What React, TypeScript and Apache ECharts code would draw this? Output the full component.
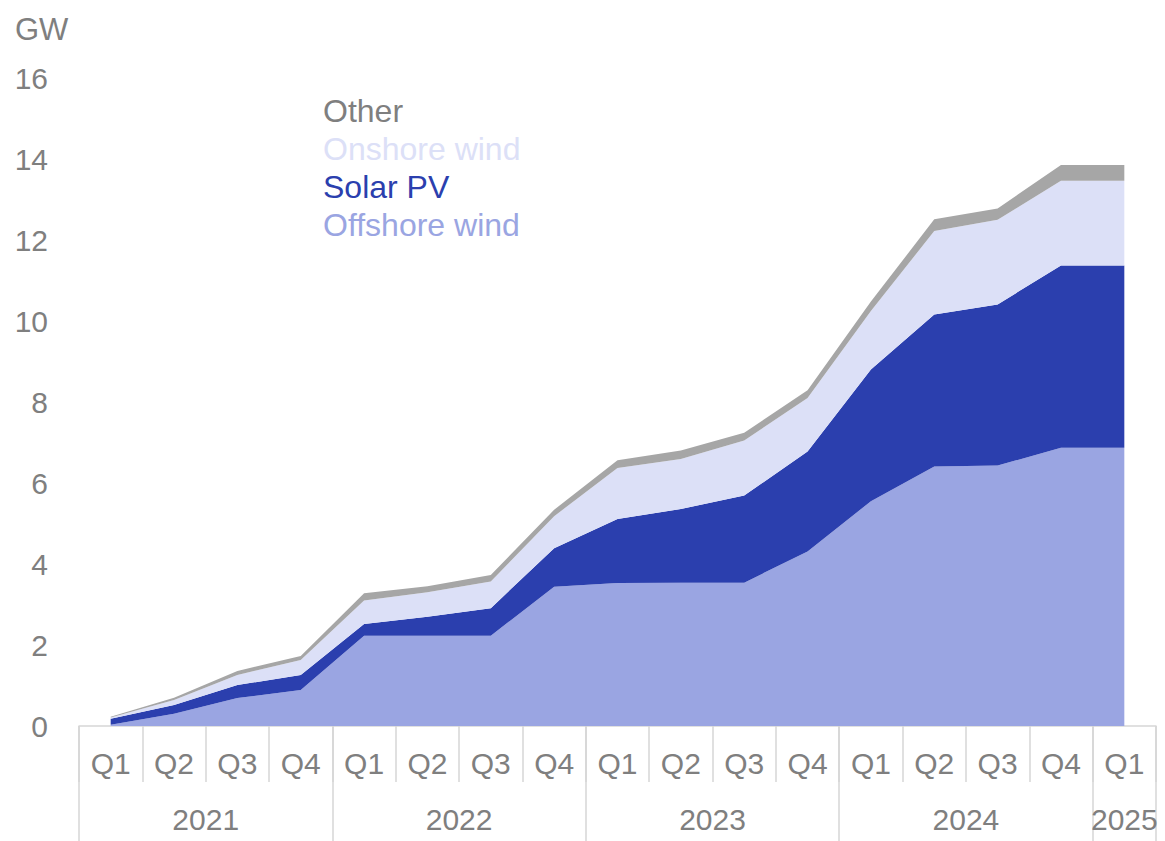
import React, { useEffect, useRef } from "react";
import * as echarts from "echarts";

const quarters = ["Q1","Q2","Q3","Q4","Q1","Q2","Q3","Q4","Q1","Q2","Q3","Q4","Q1","Q2","Q3","Q4","Q1"];
const yearLabels = ["2021", "2022", "2023", "2024", "2025"];
const yearCenters = [2, 6, 10, 14, 16.5];
const yearBounds = [0, 4, 8, 12, 16, 17];

const offshoreWind = [0.03,0.30,0.69,0.89,2.23,2.23,2.23,3.44,3.53,3.54,3.54,4.31,5.55,6.41,6.43,6.87,6.87];
const solarPV = [0.15,0.22,0.32,0.37,0.29,0.47,0.68,0.95,1.58,1.82,2.15,2.47,3.25,3.75,3.98,4.50,4.50];
const onshoreWind = [0.03,0.12,0.25,0.37,0.58,0.60,0.66,0.79,1.26,1.23,1.36,1.32,1.45,2.06,2.09,2.09,2.09];
const other = [0.02,0.06,0.10,0.10,0.18,0.15,0.16,0.16,0.19,0.21,0.19,0.19,0.23,0.29,0.28,0.39,0.39];

const COLORS = {
  offshore: "#9aa5e2",
  solar: "#2b3fae",
  onshore: "#dce0f7",
  other: "#a6a6a6",
  otherText: "#7f7f7f",
};

const FONT = "'Liberation Sans', Arial, sans-serif";
const GRAY = "#7f7f7f";
const LINE = "#d6d6d6";

export default function App() {
  const ref = useRef<HTMLDivElement>(null);
  useEffect(() => {
    if (!ref.current) return;
    const chart = echarts.init(ref.current, null, { renderer: "svg" });
    const mk = (name: string, data: number[], color: string) => ({
      name,
      type: "line",
      stack: "total",
      data,
      symbol: "none",
      showSymbol: false,
      lineStyle: { width: 0, opacity: 0 },
      itemStyle: { color },
      areaStyle: { color, opacity: 1 },
      emphasis: { disabled: true },
    });
    chart.setOption({
      animation: false,
      textStyle: { fontFamily: FONT },
      title: {
        text: "GW",
        left: 10,
        top: 9,
        textStyle: { fontSize: 31, fontWeight: "normal", color: GRAY, fontFamily: FONT },
      },
      legend: {
        orient: "vertical",
        left: 318,
        top: 92,
        padding: 0,
        itemWidth: 0,
        itemHeight: 0,
        itemGap: 0,
        selectedMode: false,
        textStyle: { fontSize: 32, lineHeight: 38, fontFamily: FONT },
        data: [
          { name: "Other", textStyle: { color: COLORS.otherText } },
          { name: "Onshore wind", textStyle: { color: COLORS.onshore } },
          { name: "Solar PV", textStyle: { color: COLORS.solar } },
          { name: "Offshore wind", textStyle: { color: COLORS.offshore } },
        ],
      },
      grid: { left: 79, right: 9, top: 78, bottom: 115, containLabel: false },
      xAxis: [
        {
          type: "category",
          data: quarters,
          boundaryGap: true,
          position: "bottom",
          axisLine: { show: true, lineStyle: { color: LINE, width: 1.5 } },
          axisTick: { show: true, interval: 0, length: 56, lineStyle: { color: LINE, width: 1.5 } },
          axisLabel: { interval: 0, fontSize: 30, color: GRAY, margin: 22, lineHeight: 30, fontFamily: FONT },
          splitLine: { show: false },
        },
        {
          type: "value",
          min: 0,
          max: 17,
          position: "bottom",
          axisLine: { show: false },
          axisTick: { show: true, length: 120, customValues: yearBounds, lineStyle: { color: LINE, width: 1.5 } },
          axisLabel: {
            customValues: yearCenters,
            fontSize: 30,
            color: GRAY,
            margin: 78,
            lineHeight: 30,
            fontFamily: FONT,
            formatter: (v: number) => {
              const i = yearCenters.indexOf(v);
              return i >= 0 ? yearLabels[i] : "";
            },
          },
          splitLine: { show: false },
        },
      ],
      yAxis: {
        type: "value",
        min: 0,
        max: 16,
        interval: 2,
        axisLine: { show: false },
        axisTick: { show: false },
        splitLine: { show: false },
        axisLabel: { fontSize: 30, color: GRAY, margin: 31, fontFamily: FONT },
      },
      series: [
        mk("Offshore wind", offshoreWind, COLORS.offshore),
        mk("Solar PV", solarPV, COLORS.solar),
        mk("Onshore wind", onshoreWind, COLORS.onshore),
        mk("Other", other, COLORS.other),
      ],
    });
    return () => chart.dispose();
  }, []);
  return (
    <div
      ref={ref}
      style={{ position: "fixed", left: 0, top: 0, width: 1165, height: 841, background: "#fff" }}
    />
  );
}
